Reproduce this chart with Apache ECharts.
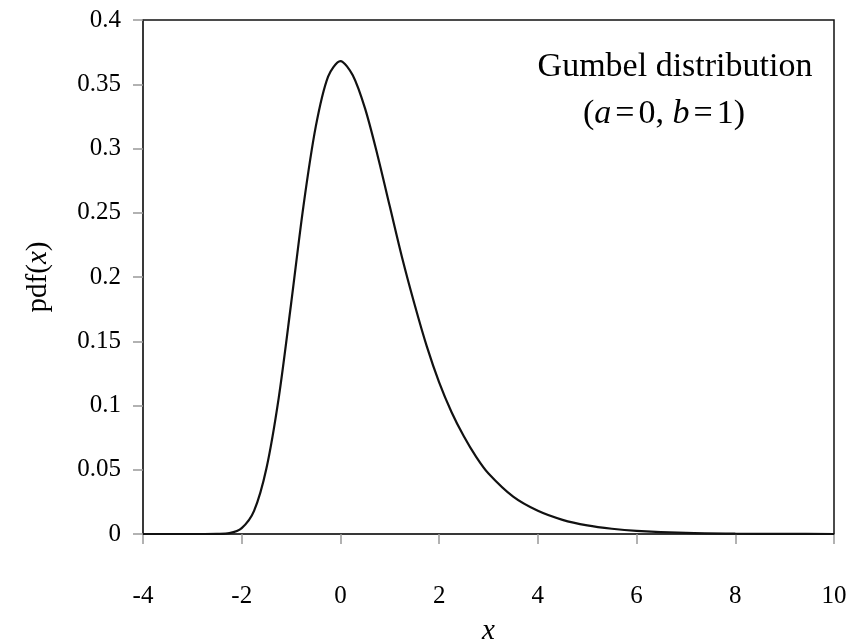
<!DOCTYPE html>
<html>
<head>
<meta charset="utf-8">
<script src="https://cdn.jsdelivr.net/npm/echarts@6/dist/echarts.min.js"></script>
<style>
	html, body { margin: 0; padding: 0; background: #fff; }
	#chart { width: 868px; height: 643px; }
</style>
</head>
<body>
<div id="chart"></div>
<script>
// values
var xs = [-4, -3.5, -3, -2.75, -2.5, -2.25, -2, -1.75, -1.5, -1.25, -1, -0.75, -0.5, -0.25,
	0, 0.25, 0.5, 0.75, 1, 1.25, 1.5, 1.75, 2, 2.25, 2.5, 2.75, 3, 3.5, 4, 4.5, 5, 5.5,
	6, 7, 8, 9, 10];
var pdf = [0, 0, 0, 0, 0.0001, 0.0007, 0.0046, 0.018, 0.051, 0.106, 0.179, 0.255, 0.317, 0.356,
	0.368, 0.357, 0.331, 0.295, 0.255, 0.215, 0.179, 0.146, 0.118, 0.095, 0.076, 0.060, 0.047, 0.029, 0.018, 0.011, 0.0067, 0.0041,
	0.0025, 0.0009, 0.0003, 0.0001, 0];
var xTicks = [-4, -2, 0, 2, 4, 6, 8, 10];
var yTicks = [0, 0.05, 0.1, 0.15, 0.2, 0.25, 0.3, 0.35, 0.4];

var serif = '"Liberation Serif", "DejaVu Serif", serif';
var points = xs.map(function (x, i) { return [x, pdf[i]]; });

var myChart = echarts.init(document.getElementById('chart'));
var option = {
	backgroundColor: '#fff',
	animation: false,
	grid: {
		left: 143, right: 34, top: 20, bottom: 109,
		outerBoundsMode: 'none',
		show: true, borderColor: '#111', borderWidth: 1.5
	},
	xAxis: {
		type: 'value',
		min: xTicks[0], max: xTicks[xTicks.length - 1], interval: 2,
		name: 'x',
		nameLocation: 'middle',
		nameGap: 83,
		nameTextStyle: { fontFamily: serif, fontStyle: 'italic', fontSize: 29, color: '#000' },
		axisLine: { onZero: false, lineStyle: { color: '#333', width: 1.5 } },
		axisTick: { length: 10, lineStyle: { color: '#999', width: 1.5 } },
		axisLabel: { margin: 50, fontFamily: serif, fontSize: 25, color: '#000' },
		splitLine: { show: false }
	},
	yAxis: {
		type: 'value',
		min: yTicks[0], max: yTicks[yTicks.length - 1], interval: 0.05,
		name: '{n|pdf(}{i|x}{n|)}',
		nameLocation: 'middle',
		nameGap: 90,
		nameTextStyle: {
			rich: {
				n: { fontFamily: serif, fontSize: 29, color: '#000' },
				i: { fontFamily: serif, fontSize: 29, fontStyle: 'italic', color: '#000' }
			}
		},
		axisLine: { show: true, onZero: false, lineStyle: { color: '#333', width: 1.5 } },
		axisTick: { show: true, length: 10, lineStyle: { color: '#999', width: 1.5 } },
		axisLabel: { margin: 22, fontFamily: serif, fontSize: 25, color: '#000' },
		splitLine: { show: false }
	},
	graphic: [
		{
			type: 'text', x: 675, y: 67,
			style: {
				text: 'Gumbel distribution',
				font: '34px ' + serif,
				fill: '#000',
				textAlign: 'center', textVerticalAlign: 'middle'
			}
		},
		{
			type: 'text', x: 664, y: 114,
			style: {
				text: '({i|a}{e|=}0, {i|b}{e|=}1)',
				font: '34px ' + serif,
				fill: '#000',
				textAlign: 'center', textVerticalAlign: 'middle',
				rich: {
					i: { fontFamily: serif, fontSize: 34, fontStyle: 'italic', fill: '#000' },
					e: { fontFamily: serif, fontSize: 34, fill: '#000', padding: [0, 4, 0, 4] }
				}
			}
		}
	],
	series: [
		{
			type: 'line',
			data: points,
			showSymbol: false,
			smooth: 0.3,
			lineStyle: { color: '#111', width: 2.2 }
		}
	]
};
myChart.setOption(option);
</script>
</body>
</html>
